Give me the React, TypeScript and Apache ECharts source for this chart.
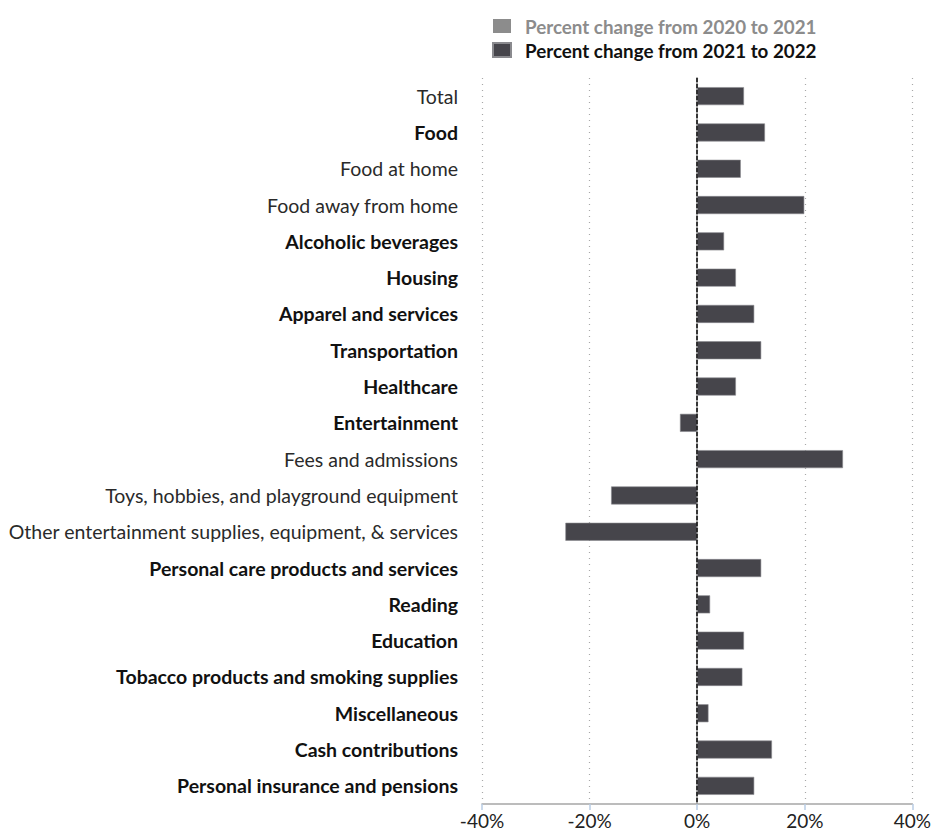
import React, { useEffect, useRef } from "react";
import * as echarts from "echarts";

const categories = [
  "Total",
  "Food",
  "Food at home",
  "Food away from home",
  "Alcoholic beverages",
  "Housing",
  "Apparel and services",
  "Transportation",
  "Healthcare",
  "Entertainment",
  "Fees and admissions",
  "Toys, hobbies, and playground equipment",
  "Other entertainment supplies, equipment, & services",
  "Personal care products and services",
  "Reading",
  "Education",
  "Tobacco products and smoking supplies",
  "Miscellaneous",
  "Cash contributions",
  "Personal insurance and pensions",
];

const boldCategories = [
  "Food",
  "Alcoholic beverages",
  "Housing",
  "Apparel and services",
  "Transportation",
  "Healthcare",
  "Entertainment",
  "Personal care products and services",
  "Reading",
  "Education",
  "Tobacco products and smoking supplies",
  "Miscellaneous",
  "Cash contributions",
  "Personal insurance and pensions",
];

// Series toggled off in the reference (legend item greyed out) – no visible values
const change2020to2021: (number | null)[] = [];

const change2021to2022 = [
  8.7, 12.6, 8.1, 19.9, 5.0, 7.2, 10.6, 11.9, 7.2, -3.2, 27.1, -16.0, -24.5,
  11.9, 2.4, 8.7, 8.4, 2.1, 13.9, 10.6,
];

const seriesNames = [
  "Percent change from 2020 to 2021",
  "Percent change from 2021 to 2022",
];

const xTicks = { min: -40, max: 40, interval: 20 };

const FONT = "Lato, 'Open Sans', sans-serif";

export default function App() {
  const ref = useRef<HTMLDivElement>(null);

  useEffect(() => {
    document.body.style.margin = "0";
    if (!ref.current) return;
    const chart = echarts.init(ref.current, undefined, { renderer: "svg" });
    chart.setOption({
      animation: false,
      textStyle: { fontFamily: FONT },
      legend: {
        orient: "vertical",
        left: 487,
        top: 11,
        itemWidth: 18,
        itemHeight: 14,
        itemGap: 4,
        icon: "rect",
        inactiveColor: "#8c8c8c",
        selected: { [seriesNames[0]]: false, [seriesNames[1]]: true },
        textStyle: {
          fontFamily: FONT,
          fontSize: 18.8,
          fontWeight: "bold",
          color: "#111",
          lineHeight: 20,
          padding: [0, 0, 0, 9],
        },
        data: seriesNames,
      },
      grid: { left: 482, right: 15, top: 78, bottom: 36 },
      xAxis: {
        type: "value",
        min: xTicks.min,
        max: xTicks.max,
        interval: xTicks.interval,
        axisLine: { show: true, lineStyle: { color: "#a6a6a6", width: 1.5 } },
        axisTick: {
          show: true,
          length: 6,
          lineStyle: { color: "#b8cce4", width: 1.5 },
        },
        axisLabel: {
          formatter: "{value}%",
          fontSize: 19,
          color: "#222",
          margin: 7,
          fontFamily: FONT,
        },
        splitLine: {
          show: true,
          lineStyle: { type: [1, 5], color: "#a8a8a8", width: 1.2 },
        },
      },
      yAxis: {
        type: "category",
        inverse: true,
        data: categories,
        axisLine: { show: true, lineStyle: { color: "#a6a6a6", width: 2 } },
        axisTick: { show: false },
        axisLabel: {
          margin: 24,
          formatter: (v: string) =>
            boldCategories.includes(v) ? `{b|${v}}` : `{n|${v}}`,
          rich: {
            b: { fontFamily: FONT, fontSize: 19.5, fontWeight: "bold", color: "#111" },
            n: { fontFamily: FONT, fontSize: 19.5, color: "#2a2a2a" },
          },
        },
      },
      series: [
        {
          name: seriesNames[0],
          type: "bar",
          data: change2020to2021,
          itemStyle: { color: "#7f7f7f" },
          barWidth: 18,
        },
        {
          name: seriesNames[1],
          type: "bar",
          data: change2021to2022,
          barWidth: 18,
          itemStyle: { color: "#46454b", borderColor: "#8a8a8e", borderWidth: 0.6 },
          markLine: {
            silent: true,
            symbol: "none",
            label: { show: false },
            lineStyle: { type: [4, 2], color: "#111", width: 1.5 },
            data: [{ xAxis: 0 }],
          },
        },
      ],
    });
    return () => chart.dispose();
  }, []);

  return <div ref={ref} style={{ width: 934, height: 840 }} />;
}
